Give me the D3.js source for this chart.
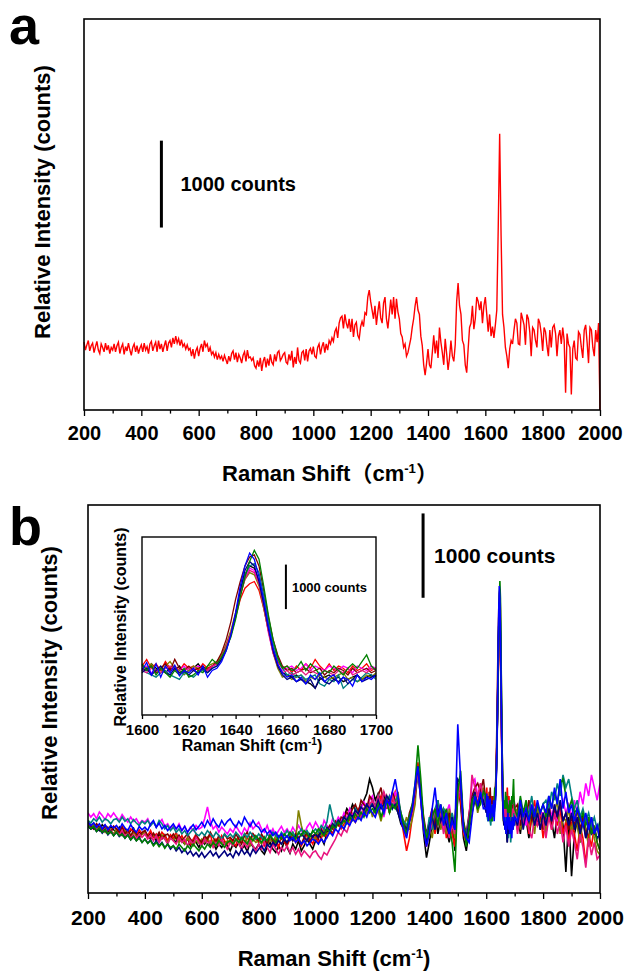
<!DOCTYPE html>
<html>
<head>
<meta charset="utf-8">
<script src="https://cdn.jsdelivr.net/npm/d3@7/dist/d3.min.js"></script>
<style>
  body { margin: 0; background: #fff; }
  svg text { font-family: "Liberation Sans", Arial, "Noto Sans CJK SC", sans-serif; font-weight: bold; fill: #000; }
</style>
</head>
<body>
<div id="chart"></div>
<script>
// ---- data (counts) ----
// panel a, every 5 cm-1, one row = 100 cm-1
const shiftA = d3.range(200, 2001, 5);
const intensityA = [
  780,690,750,800,680,740,770,660,730,790,690,650,760,720,670,770,690,745,650,720,
  690,760,670,740,780,650,720,760,640,730,680,770,690,630,720,760,670,740,650,710,
  750,670,770,690,730,650,760,790,680,740,780,670,800,700,760,670,740,800,680,770,
  800,720,830,760,850,770,820,740,810,730,760,700,750,690,710,620,700,590,680,720,
  620,710,760,670,800,730,760,670,720,640,670,610,660,580,640,590,620,560,630,580,
  530,620,560,650,680,580,660,550,640,600,540,630,670,560,690,600,610,570,600,510,
  480,570,500,600,450,560,610,490,590,510,640,550,520,640,560,660,680,570,600,640,
  660,550,530,640,570,680,490,610,530,720,570,540,660,680,570,700,560,680,710,640,
  730,620,600,720,760,640,730,780,660,760,690,800,760,830,790,900,940,830,1000,1060,
  1080,940,1100,1000,940,1050,900,1050,840,980,1010,860,820,960,1020,960,1120,1100,1300,1380,
  1250,1150,1050,1200,980,1130,1250,1060,1000,1230,1300,1050,940,1100,1270,1100,1300,1050,1280,1130,
  1050,880,840,720,760,620,660,740,820,950,1050,1200,1300,1150,1100,850,740,520,400,540,
  700,520,480,660,860,650,800,600,950,780,660,520,820,650,460,600,800,620,560,750,
  1250,1460,1200,1100,800,750,520,430,700,950,1000,1200,930,1050,1300,1250,1150,1250,1000,1200,
  1300,1100,900,1100,850,960,830,980,1150,2100,3180,2000,1100,950,720,620,480,700,800,760,
  920,1050,1000,760,750,1120,1050,980,750,1100,1050,900,620,950,920,800,720,1050,1000,880,
  680,950,900,740,620,920,720,950,980,880,620,850,920,760,950,800,200,880,760,720,
  180,700,800,600,580,900,870,720,600,920,980,780,540,950,920,720,620,920,780,1000,
  0
];

// panel b, every 10 cm-1, one row = 100 cm-1
const shiftB = d3.range(200, 2001, 10);
const bBlack = [
  800,760,830,780,740,810,770,720,790,750, 720,780,700,760,690,740,770,680,720,700,
  740,660,710,680,620,700,650,690,610,660, 640,600,680,620,580,650,560,620,600,540,
  620,580,640,560,600,520,580,540,610,560, 500,580,540,600,520,560,490,600,550,520,
  580,500,460,540,600,520,480,560,500,620, 540,470,580,520,620,500,560,640,580,520,
  620,700,650,580,720,760,700,800,860,820, 900,1000,950,1050,980,900,1020,1100,1180,1350,
  1250,1100,1180,1050,1200,1000,1100,1150,1050,950, 820,760,700,850,950,1200,1450,1100,700,420,
  600,800,950,700,880,1000,750,600,820,500, 1300,1050,650,500,750,950,1100,1000,1200,1050,
  1100,1000,950,1000,1100,3000,1100,850,800,850, 820,950,700,1000,880,650,900,800,1000,750,
  900,700,1000,850,650,950,1050,800,250,900, 200,700,850,600,950,750,650,900,700,800,
  600];
const bRed = [
  850,800,760,820,780,740,800,760,720,790, 760,720,790,740,700,760,720,680,750,700,
  720,680,740,660,700,640,720,680,620,690, 650,720,620,680,600,660,580,640,700,620,
  580,660,620,700,560,640,600,680,620,580, 640,600,560,680,620,580,660,600,700,640,
  600,660,560,620,700,580,640,540,680,600, 560,640,700,600,660,560,620,700,640,580,
  680,600,650,720,660,740,700,780,820,760, 820,900,860,940,880,1000,950,920,1050,1000,
  1100,950,1050,1150,1000,1080,950,1100,1200,1050, 900,700,500,650,900,1150,1550,1200,800,550,
  750,900,700,1050,800,950,650,900,700,550, 1200,1100,700,600,850,1050,1200,1050,1300,1150,
  1150,1050,1000,1050,1100,2900,1100,900,850,900, 950,750,1050,850,1000,700,900,1100,800,950,
  650,900,1050,750,950,800,1000,700,850,600, 850,700,500,800,650,350,700,550,800,600,
  500];
const bMagenta = [
  950,900,940,880,960,920,870,940,900,950, 900,860,930,880,840,900,850,880,820,860,
  840,880,800,850,780,830,870,790,820,760, 800,760,820,740,790,720,780,740,800,760,
  780,880,1020,850,760,800,720,780,740,700, 760,720,800,740,690,770,720,830,760,800,
  840,760,720,800,700,760,680,740,790,720, 760,700,780,720,800,740,690,780,830,760,
  840,780,720,860,800,760,880,820,900,850, 950,880,1000,920,960,900,1000,1080,1020,1100,
  1150,1000,950,1080,900,1050,1150,1000,1200,1100, 950,800,750,900,1000,1200,1450,1150,800,650,
  850,1000,800,1050,900,750,950,1050,800,700, 1100,1300,800,700,900,1300,1350,1150,1250,1100,
  1150,1050,1100,1050,1150,3000,1100,950,1000,1050, 1000,850,1100,950,800,1050,900,1000,850,950,
  950,800,1100,900,1050,850,1000,1100,950,1050, 900,1100,950,1200,1050,1300,1150,1400,1250,1100,
  1300];
const bOlive = [
  800,770,820,740,790,760,720,780,740,700, 760,720,680,740,700,660,720,690,650,700,
  720,670,640,700,650,620,690,640,600,660, 620,680,600,640,580,650,610,560,620,590,
  640,600,660,580,620,560,640,600,580,620, 600,560,640,580,620,700,600,560,640,600,
  620,580,660,560,640,600,680,620,580,640, 600,660,720,640,980,800,680,620,700,660,
  640,720,680,760,700,740,820,780,860,800, 760,880,820,900,840,960,900,1000,940,1050,
  900,1050,980,850,1000,1100,950,1150,1050,1200, 880,780,900,750,880,1050,1500,1200,850,600,
  800,650,900,1050,750,900,700,1000,800,650, 1150,1350,800,600,800,1000,1150,950,1100,1250,
  1050,1000,950,1000,1050,2900,1050,850,800,850, 900,1000,750,900,1050,800,950,700,1000,850,
  900,700,1050,800,950,1100,700,900,850,1000, 700,950,800,600,900,750,550,850,650,500,
  450];
const bMaroon = [
  830,790,760,820,780,740,800,770,720,790, 760,720,780,700,750,680,740,700,660,720,
  740,680,640,710,660,720,640,680,700,650, 700,640,680,620,660,700,640,600,680,640,
  600,680,640,720,660,600,680,620,700,640, 660,620,700,640,580,680,720,640,700,660,
  620,700,640,580,680,620,560,660,700,620, 580,680,620,700,640,580,660,720,600,680,
  700,640,760,680,740,800,760,850,800,900, 880,960,900,1000,1050,950,1100,1050,1000,1150,
  1100,1000,1150,1250,1050,1150,1000,1200,1100,1000, 900,850,750,950,1050,1150,1500,1200,900,700,
  850,1000,800,1100,900,1000,800,950,750,900, 1250,1200,850,700,950,1150,1250,1300,1200,1350,
  1100,1050,1000,1050,1100,3100,1100,900,850,900, 950,1050,800,1000,900,1100,850,1000,800,950,
  750,950,1050,800,1000,900,1050,850,950,750, 900,800,1000,750,900,650,850,750,700,800,
  700];
const bTeal = [
  860,830,880,850,900,840,880,860,820,870, 880,840,900,850,880,820,870,830,800,850,
  820,860,800,840,780,860,820,760,800,740, 780,720,760,700,740,680,720,760,700,680,
  720,680,740,700,660,720,680,640,700,660, 700,660,720,680,640,700,660,720,680,640,
  700,660,620,700,660,720,680,640,720,680, 740,680,720,660,700,760,700,740,680,720,
  760,720,800,760,840,1050,900,800,860,820, 900,860,940,880,1000,940,880,980,1050,1000,
  1100,1000,1150,1050,950,1100,1150,1000,1080,1150, 950,850,800,900,1000,1200,1400,1150,850,650,
  900,750,1000,1100,850,1000,900,750,950,800, 1200,1250,800,700,900,1050,1150,1050,1150,1200,
  1100,1000,950,1000,1100,3000,1100,900,850,900, 1000,900,1100,850,1000,950,1150,900,1050,950,
  1050,1100,1000,1200,1100,1300,1150,1400,1250,1350, 1150,1000,1100,900,1000,850,950,800,900,750,
  850];
const bPink = [
  800,760,790,740,770,720,760,700,740,690, 720,690,740,670,700,650,690,640,700,660,
  700,640,690,620,680,600,660,640,580,650, 620,580,660,600,640,560,620,580,660,600,
  560,640,580,620,540,600,560,640,580,520, 600,560,640,580,520,600,540,620,560,500,
  580,520,600,540,480,580,520,460,540,500, 560,480,540,460,520,440,500,460,420,480,
  500,440,400,480,450,520,580,640,720,680, 760,720,820,880,840,940,900,1000,960,1050,
  1100,1000,1150,1050,1200,1100,1000,1150,1050,1100, 900,800,700,850,950,1200,1450,1100,750,600,
  700,850,1000,800,950,700,850,650,800,700, 1150,1300,750,600,900,1400,1250,1150,1300,1100,
  1120,1000,1050,1000,1100,3000,1100,850,800,850, 900,700,950,800,1000,750,650,900,800,950,
  850,650,900,750,950,700,850,600,800,550, 750,600,400,700,550,300,650,450,600,400,
  450];
const bNavy = [
  790,760,780,730,760,710,750,690,730,680, 720,670,700,650,690,630,670,620,660,600,
  640,590,630,570,620,560,600,540,580,520, 560,500,540,480,520,460,500,440,480,430,
  480,420,460,500,440,480,420,460,500,440, 470,420,500,450,520,460,500,440,520,470,
  520,560,500,580,540,600,560,620,580,640, 600,660,620,680,640,700,660,620,700,660,
  700,660,740,700,780,740,820,780,860,820, 900,860,940,900,980,940,1020,980,1050,1000,
  1050,980,1100,1000,1050,1150,1100,1000,1050,950, 850,800,750,850,1000,1250,1500,1150,800,600,
  800,900,750,1000,850,950,800,700,900,750, 1350,1300,800,650,850,1100,1200,1000,1150,1100,
  1100,1000,1050,1000,1100,3100,1100,850,800,850, 900,800,1000,750,950,850,1000,800,950,750,
  950,800,1000,850,1050,900,1100,850,950,800, 950,750,900,700,850,650,800,700,750,650,
  700];
const bGreen = [
  800,760,790,730,770,720,750,700,730,680, 720,680,700,650,690,630,670,620,650,600,
  640,590,620,560,600,550,590,530,580,540, 560,520,580,540,500,560,520,580,540,500,
  560,520,580,540,600,560,620,580,540,600, 620,580,640,600,660,620,580,660,620,680,
  640,600,660,620,680,640,600,680,640,700, 660,720,680,640,720,680,740,700,660,740,
  700,760,720,680,760,720,800,760,840,800, 860,820,900,860,940,880,960,900,1000,950,
  1000,950,1050,900,1000,1100,950,1050,1000,1100, 950,800,700,900,1050,1300,1750,1350,850,650,
  750,900,1000,800,1050,900,1000,800,600,250, 1200,1450,850,550,800,1100,1150,1000,1050,1200,
  1100,1000,1050,1000,1100,3100,1100,900,850,900, 1050,900,1150,950,1100,850,1000,900,1050,950,
  1050,900,1150,1000,1200,1050,1300,1350,1150,1000, 1100,950,1000,850,950,800,900,700,800,600,
  500];
const bBlue = [
  840,800,830,780,820,760,810,750,800,770, 800,750,820,770,740,810,760,720,790,750,
  780,740,820,860,780,830,760,800,740,780, 820,760,800,740,790,720,770,810,750,790,
  840,780,860,800,880,820,780,860,800,850, 880,820,780,850,800,900,840,790,860,800,
  780,720,760,700,740,680,720,660,700,640, 680,620,660,600,640,580,620,560,600,640,
  620,580,640,600,660,720,680,760,720,800, 760,840,800,880,840,900,860,960,900,1000,
  950,900,1000,1050,950,1100,1050,1200,1350,1150, 850,750,650,850,1000,1300,1500,1100,750,550,
  700,1000,1250,900,1050,800,950,700,850,750, 2000,1350,750,650,600,900,1150,1050,1200,1000,
  1100,1000,1050,1000,1100,3200,1100,900,850,900, 1050,850,1100,900,1000,850,1050,900,1100,950,
  1050,950,1150,1000,1250,1050,1350,1000,1200,950, 1050,850,1000,900,800,950,750,900,700,800,
  650];

// inset (and main b between 1600 and 1700), every 2 cm-1
const shiftInset = d3.range(1600, 1701, 2);
const iBlack = [
  1050,1000,1150,1050,1000,950,1050,1000,1100,950, 1000,1050,1150,1000,1050,1100,1150,1300,1550,1850,
  2250,2750,3150,3350,3300,3000,2500,1950,1450,1100, 950,900,850,900,800,750,700,600,800,850,
  900,800,850,750,800,850,900,800,850,900,850];
const iRed = [
  1100,1250,1050,1150,1000,1200,1050,1100,1000,1150, 1050,1100,1000,1150,1050,1100,1150,1300,1500,1800,
  2200,2600,2850,2950,3000,2800,2400,1900,1500,1200, 1050,1100,950,1100,1000,1150,1050,1250,1100,1000,
  1150,1000,1100,1050,950,1100,1000,1050,1150,1000,1050];
const iMagenta = [
  1050,1100,950,1000,1050,950,1000,1050,1000,1100, 1000,1050,1100,1050,1000,1100,1150,1300,1550,1850,
  2250,2700,3100,3300,3250,2950,2450,1850,1400,1100, 1000,1050,1100,1000,1050,1150,1000,1100,1050,1000,
  1100,1050,1000,1100,1050,950,1100,1050,1000,1100,1050];
const iOlive = [
  1100,1050,1150,1000,950,1100,1200,1050,1000,900, 1000,1100,1050,1000,1100,1150,1200,1350,1600,1900,
  2300,2700,3050,3200,3150,2900,2400,1900,1400,1050, 850,900,800,850,900,750,850,800,900,850,
  800,850,900,950,800,850,750,800,900,850,950];
const iMaroon = [
  1050,1000,1100,950,1050,1150,1000,1250,1050,1000, 1100,1000,1050,1100,1000,1100,1200,1400,1700,2100,
  2600,3000,3350,3550,3600,3350,2800,2200,1700,1350, 1100,1000,1050,950,1000,1050,950,1000,1050,900,
  1000,950,1050,1000,900,1050,950,1000,1050,950,1000];
const iTeal = [
  1000,950,900,850,950,1000,900,850,800,950, 900,850,950,1000,950,1050,1100,1250,1500,1800,
  2200,2700,3150,3350,3400,3200,2700,2100,1600,1250, 1050,900,950,850,900,800,850,900,700,650,
  800,750,900,600,700,800,750,850,950,900,800];
const iPink = [
  1000,950,1050,1000,950,1050,1100,1000,950,1000, 1050,1000,950,1050,1000,1100,1150,1300,1550,1850,
  2250,2700,3050,3250,3200,2950,2450,1900,1400,1100, 950,1000,900,950,1000,900,1000,950,900,1000,
  950,900,1000,950,1050,900,950,1000,950,1050,1000];
const iNavy = [
  950,1050,900,1000,1100,950,900,1050,950,1000, 900,1000,950,1050,950,1050,1100,1250,1450,1800,
  2250,2800,3250,3450,3350,3000,2500,1950,1450,1100, 900,800,850,750,800,700,800,600,850,750,
  700,800,750,850,700,800,900,750,800,850,900];
const iGreen = [
  1150,1000,1100,900,1050,950,850,1000,900,1050, 850,900,1000,950,1100,1250,1150,1300,1500,1750,
  2150,2650,3100,3450,3700,3500,2900,2250,1700,1300, 1050,1100,1000,1050,1200,1000,1150,1050,900,1000,
  950,1100,1000,900,1050,1150,1050,1200,1350,1100,1000];
const iBlue = [
  1000,1180,900,1150,850,1100,950,1120,880,1000, 950,1050,900,1100,850,1000,1050,1200,1450,1800,
  2300,2900,3350,3640,3500,3100,2600,2000,1500,1150, 950,850,900,750,850,700,900,800,950,750,
  850,900,700,850,800,650,900,750,850,800,900];

const seriesColors = ["#000000","#ff0000","#ff00ff","#808000","#800000","#008080","#e8157f","#000080","#008000","#0000ff"];
const coarseB = [bBlack,bRed,bMagenta,bOlive,bMaroon,bTeal,bPink,bNavy,bGreen,bBlue];
const fineB = [iBlack,iRed,iMagenta,iOlive,iMaroon,iTeal,iPink,iNavy,iGreen,iBlue];

const majorTicks = d3.range(200, 2001, 200);
const minorTicks = d3.range(300, 2000, 200);
const insetMajor = d3.range(1600, 1701, 20);
const insetMinor = d3.range(1610, 1700, 20);

// ---- drawing ----
const svg = d3.select("#chart").append("svg")
  .attr("width", 624).attr("height", 971);

function bottomAxis(g, x, yPos, major, minor, size, pad, fontSize) {
  g.append("g")
    .attr("transform", "translate(0," + yPos + ")")
    .call(d3.axisBottom(x).tickValues(minor).tickSize(size * 0.6).tickFormat(""))
    .call(s => s.select(".domain").remove())
    .call(s => s.selectAll("line").attr("stroke-width", 1.3));
  g.append("g")
    .attr("transform", "translate(0," + yPos + ")")
    .call(d3.axisBottom(x).tickValues(major).tickSize(size).tickPadding(pad).tickFormat(d3.format("d")))
    .call(s => s.select(".domain").remove())
    .call(s => s.selectAll("line").attr("stroke-width", 1.3))
    .call(s => s.selectAll("text").attr("font-size", fontSize).attr("font-family", null));
}

function frame(x0, y0, x1, y1, w) {
  svg.append("rect")
    .attr("x", x0).attr("y", y0).attr("width", x1 - x0).attr("height", y1 - y0)
    .attr("fill", "none").attr("stroke", "#000").attr("stroke-width", w);
}

function scaleBar(x, y, xv, lo, hi, w, dx, fontSize) {
  svg.append("line")
    .attr("x1", x(xv)).attr("x2", x(xv)).attr("y1", y(lo)).attr("y2", y(hi))
    .attr("stroke", "#000").attr("stroke-width", w);
  svg.append("text")
    .attr("x", x(xv) + dx).attr("y", (y(lo) + y(hi)) / 2)
    .attr("dy", "0.36em").attr("font-size", fontSize)
    .text("1000 counts");
}

function xTitle(cx, baseline, fontSize, fullWidth) {
  const t = svg.append("text").attr("x", cx).attr("y", baseline)
    .attr("text-anchor", "middle").attr("font-size", fontSize);
  t.append("tspan").text(fullWidth ? "Raman Shift（cm" : "Raman Shift (cm");
  t.append("tspan").attr("dy", -fontSize * 0.38).attr("font-size", fontSize * 0.6).text("-1");
  t.append("tspan").attr("dy", fontSize * 0.38).text(fullWidth ? "）" : ")");
}

function yTitle(bx, cy, fontSize) {
  svg.append("text")
    .attr("transform", "translate(" + bx + "," + cy + ") rotate(-90)")
    .attr("text-anchor", "middle").attr("font-size", fontSize)
    .text("Relative Intensity (counts)");
}

// panel a
const xA = d3.scaleLinear().domain([200, 2000]).range([84, 600]);
const yA = d3.scaleLinear().domain([0, 4500]).range([410, 19]);
const lineA = d3.line().x(d => xA(d[0])).y(d => yA(d[1]));

svg.append("path")
  .datum(shiftA.map((s, i) => [s, intensityA[i]]))
  .attr("d", lineA)
  .attr("fill", "none").attr("stroke", "#ff0000").attr("stroke-width", 1.4);

frame(84, 19, 600, 410, 1.6);
bottomAxis(svg, xA, 410, majorTicks, minorTicks, 6, 10, 20);
scaleBar(xA, yA, 470, 2100, 3100, 3, 19, 20);
xTitle(330, 481, 22, true);
yTitle(50, 202, 22);
svg.append("text").attr("x", 9).attr("y", 44).attr("font-size", 54).text("a");

// panel b
const xB = d3.scaleLinear().domain([200, 2000]).range([88, 600]);
const yB = d3.scaleLinear().domain([0, 4600]).range([893, 505]);
const lineB = d3.line().x(d => xB(d[0])).y(d => yB(d[1]));

svg.append("clipPath").attr("id", "clipB")
  .append("rect").attr("x", 88).attr("y", 505).attr("width", 512).attr("height", 388);

const gB = svg.append("g").attr("clip-path", "url(#clipB)");
coarseB.forEach((vals, k) => {
  const pts = shiftB.map((s, i) => [s, vals[i]]).filter(d => d[0] < 1600 || d[0] > 1700)
    .concat(shiftInset.map((s, i) => [s, fineB[k][i]]))
    .sort((a, b) => a[0] - b[0]);
  gB.append("path").datum(pts).attr("d", lineB)
    .attr("fill", "none").attr("stroke", seriesColors[k]).attr("stroke-width", 1.6);
});

frame(88, 505, 600, 893, 1.6);
bottomAxis(svg, xB, 893, majorTicks, minorTicks, 6, 11, 21);
scaleBar(xB, yB, 1378, 3500, 4500, 3, 11, 21);
xTitle(334, 966, 22, false);
yTitle(57, 683, 22);
svg.append("text").attr("x", 9).attr("y", 545).attr("font-size", 54).text("b");

// inset
const xI = d3.scaleLinear().domain([1600, 1700]).range([142, 376]);
const yI = d3.scaleLinear().domain([0, 4000]).range([715, 537]);
const lineI = d3.line().x(d => xI(d[0])).y(d => yI(d[1]));

svg.append("rect").attr("x", 142).attr("y", 537).attr("width", 234).attr("height", 178).attr("fill", "#fff");
fineB.forEach((vals, k) => {
  svg.append("path")
    .datum(shiftInset.map((s, i) => [s, vals[i]]))
    .attr("d", lineI)
    .attr("fill", "none").attr("stroke", seriesColors[k]).attr("stroke-width", 1.3);
});
frame(142, 537, 376, 715, 1.4);
bottomAxis(svg, xI, 715, insetMajor, insetMinor, 4, 5, 15);
scaleBar(xI, yI, 1661.5, 2380, 3380, 2, 6, 13);
svg.append("g").call(g => {
  const t = g.append("text").attr("x", 252).attr("y", 751)
    .attr("text-anchor", "middle").attr("font-size", 16);
  t.append("tspan").text("Raman Shift (cm");
  t.append("tspan").attr("dy", -6).attr("font-size", 10).text("-1");
  t.append("tspan").attr("dy", 6).text(")");
});
yTitle(126, 627, 16);
</script>
</body>
</html>
